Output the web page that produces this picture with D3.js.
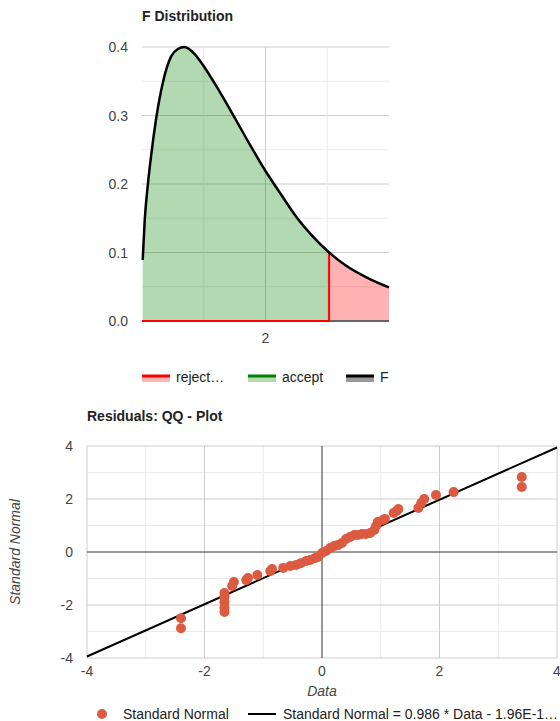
<!DOCTYPE html>
<html>
<head>
<meta charset="utf-8">
<script src="https://cdn.jsdelivr.net/npm/d3@7"></script>
<style>
  html, body { margin: 0; padding: 0; background: #fff; }
  svg { display: block; font-family: Arial, "Liberation Sans", sans-serif; }
</style>
</head>
<body>
<svg id="chart" width="560" height="721"></svg>
<script>
// ---------- Data: F distribution ----------
const fX = [0.011, 0.044, 0.097, 0.15, 0.23, 0.34, 0.47, 0.58, 0.69, 0.85, 1.0, 1.25, 1.5, 1.75, 2.0, 2.25, 2.5, 2.75, 3.03, 3.3, 3.65, 4.0];
const fY = [0.089, 0.147, 0.201, 0.243, 0.296, 0.349, 0.386, 0.397, 0.400, 0.390, 0.372, 0.336, 0.297, 0.257, 0.219, 0.185, 0.152, 0.125, 0.100, 0.081, 0.063, 0.049];
const criticalValue = 3.03;
const fYTicks = [0, 0.1, 0.2, 0.3, 0.4];
const fYTickLabels = ["0.0", "0.1", "0.2", "0.3", "0.4"];
const fXTicks = [2];
const fLegend = ["reject\u2026", "accept", "F"];

// ---------- Data: QQ plot ----------
const qqData = [-2.40, -2.40, -1.66, -1.66, -1.66, -1.66, -1.66, -1.53, -1.50, -1.29, -1.26, -1.10, -0.88, -0.85, -0.66, -0.54, -0.44, -0.36, -0.27, -0.20, -0.12, -0.07, 0.00, 0.07, 0.14, 0.21, 0.27, 0.34, 0.41, 0.48, 0.55, 0.61, 0.68, 0.75, 0.82, 0.89, 0.92, 0.95, 1.04, 1.07, 1.22, 1.27, 1.30, 1.64, 1.69, 1.74, 1.94, 2.24, 3.40, 3.40];
const qqNormal = [-2.50, -2.88, -1.55, -1.70, -1.90, -2.10, -2.26, -1.28, -1.13, -1.06, -0.98, -0.87, -0.72, -0.64, -0.60, -0.53, -0.49, -0.42, -0.34, -0.30, -0.23, -0.19, -0.04, 0.04, 0.15, 0.23, 0.26, 0.34, 0.49, 0.57, 0.64, 0.64, 0.68, 0.68, 0.72, 0.83, 0.98, 1.13, 1.21, 1.25, 1.47, 1.55, 1.62, 1.66, 1.85, 2.00, 2.15, 2.26, 2.83, 2.45];
const trendSlope = 0.986;
const trendIntercept = -1.96e-16;
const qqTicks = [-4, -2, 0, 2, 4];
const qqLegend = ["Standard Normal", "Standard Normal = 0.986 * Data - 1.96E-1\u2026"];

const svg = d3.select("#chart");

// ================= Top chart =================
{
  const x = d3.scaleLinear().domain([0, 4]).range([142, 389]);
  const y = d3.scaleLinear().domain([0, 0.4]).range([321, 47]);
  const g = svg.append("g");

  g.append("text").attr("x", 142).attr("y", 21).attr("font-size", 14).attr("font-weight", "bold")
    .attr("fill", "#222").text("F Distribution");

  // gridlines
  const hMinor = d3.range(0.05, 0.4, 0.1);
  g.selectAll(".hmin").data(hMinor).join("line")
    .attr("x1", x(0)).attr("x2", x(4)).attr("y1", d => y(d)).attr("y2", d => y(d))
    .attr("stroke", "#ebebeb").attr("stroke-width", 1);
  g.selectAll(".hmaj").data(fYTicks.slice(1)).join("line")
    .attr("x1", x(0)).attr("x2", x(4)).attr("y1", d => y(d)).attr("y2", d => y(d))
    .attr("stroke", "#cccccc").attr("stroke-width", 1);
  g.selectAll(".vmin").data([1, 3]).join("line")
    .attr("x1", d => x(d)).attr("x2", d => x(d)).attr("y1", y(0)).attr("y2", y(0.4))
    .attr("stroke", "#ebebeb").attr("stroke-width", 1);
  g.selectAll(".vmaj").data(fXTicks).join("line")
    .attr("x1", d => x(d)).attr("x2", d => x(d)).attr("y1", y(0)).attr("y2", y(0.4))
    .attr("stroke", "#cccccc").attr("stroke-width", 1);

  const pts = fX.map((v, i) => ({ x: v, y: fY[i] }));
  const acc = pts.filter(d => d.x <= criticalValue);
  const rej = pts.filter(d => d.x >= criticalValue);
  const crit = pts.find(d => d.x === criticalValue);

  const area = d3.area().x(d => x(d.x)).y0(y(0)).y1(d => y(d.y)).curve(d3.curveMonotoneX);
  g.append("path").attr("d", area(acc)).attr("fill", "#008000").attr("fill-opacity", 0.3);
  g.append("path").attr("d", area(rej)).attr("fill", "#ff0000").attr("fill-opacity", 0.3);

  // baseline
  g.append("line").attr("x1", x(0)).attr("x2", x(4)).attr("y1", y(0)).attr("y2", y(0))
    .attr("stroke", "#666").attr("stroke-width", 2);
  // reject series line (0 until critical, then up)
  g.append("path")
    .attr("d", d3.line().x(d => x(d.x)).y(d => y(d.y))([{ x: 0, y: 0 }, { x: criticalValue, y: 0 }, crit]))
    .attr("fill", "none").attr("stroke", "#ff0000").attr("stroke-width", 2);

  // F curve
  g.append("path").attr("d", d3.line().x(d => x(d.x)).y(d => y(d.y)).curve(d3.curveMonotoneX)(pts))
    .attr("fill", "none").attr("stroke", "#000").attr("stroke-width", 2.5);

  // tick labels
  g.selectAll(".yl").data(fYTicks).join("text")
    .attr("x", 128).attr("y", d => y(d) + 5).attr("text-anchor", "end")
    .attr("font-size", 14).attr("fill", "#444").text((d, i) => fYTickLabels[i]);
  g.selectAll(".xl").data(fXTicks).join("text")
    .attr("x", d => x(d)).attr("y", 343).attr("text-anchor", "middle")
    .attr("font-size", 14).attr("fill", "#444").text(d => d);

  // legend
  const legX = [142, 248, 346];
  const legCol = ["#ff0000", "#008000", "#000000"];
  const legBand = ["#ffb3b3", "#b3d9b3", "#999999"];
  fLegend.forEach((t, i) => {
    g.append("rect").attr("x", legX[i]).attr("y", 377).attr("width", 28).attr("height", 5).attr("fill", legBand[i]);
    g.append("rect").attr("x", legX[i]).attr("y", 374.5).attr("width", 28).attr("height", 3).attr("fill", legCol[i]);
    g.append("text").attr("x", legX[i] + 34).attr("y", 382).attr("font-size", 14).attr("fill", "#222").text(t);
  });
}

// ================= Bottom chart =================
{
  const x = d3.scaleLinear().domain([-4, 4]).range([87, 557]);
  const y = d3.scaleLinear().domain([-4, 4]).range([658, 446]);
  const g = svg.append("g");

  g.append("text").attr("x", 87).attr("y", 421).attr("font-size", 14).attr("font-weight", "bold")
    .attr("fill", "#222").text("Residuals: QQ - Plot");

  const all = d3.range(-4, 5, 1);
  const minor = all.filter(d => d % 2 !== 0);
  const major = all.filter(d => d % 2 === 0 && d !== 0);
  g.selectAll(".vmin").data(minor).join("line")
    .attr("x1", d => x(d)).attr("x2", d => x(d)).attr("y1", y(-4)).attr("y2", y(4))
    .attr("stroke", "#ebebeb");
  g.selectAll(".hmin").data(minor).join("line")
    .attr("y1", d => y(d)).attr("y2", d => y(d)).attr("x1", x(-4)).attr("x2", x(4))
    .attr("stroke", "#ebebeb");
  g.selectAll(".vmaj").data(major).join("line")
    .attr("x1", d => x(d)).attr("x2", d => x(d)).attr("y1", y(-4)).attr("y2", y(4))
    .attr("stroke", "#cccccc");
  g.selectAll(".hmaj").data(major).join("line")
    .attr("y1", d => y(d)).attr("y2", d => y(d)).attr("x1", x(-4)).attr("x2", x(4))
    .attr("stroke", "#cccccc");
  // zero axes
  g.append("line").attr("x1", x(0)).attr("x2", x(0)).attr("y1", y(-4)).attr("y2", y(4)).attr("stroke", "#333");
  g.append("line").attr("y1", y(0)).attr("y2", y(0)).attr("x1", x(-4)).attr("x2", x(4)).attr("stroke", "#333");

  // trendline
  g.append("line")
    .attr("x1", x(-4)).attr("y1", y(trendSlope * -4 + trendIntercept))
    .attr("x2", x(4)).attr("y2", y(trendSlope * 4 + trendIntercept))
    .attr("stroke", "#000").attr("stroke-width", 2);

  // points
  g.selectAll(".pt").data(qqData.map((d, i) => [d, qqNormal[i]])).join("circle")
    .attr("cx", d => x(d[0])).attr("cy", d => y(d[1])).attr("r", 5).attr("fill", "#dc5a40");

  // tick labels
  g.selectAll(".yl").data(qqTicks).join("text")
    .attr("x", 73).attr("y", d => y(d) + 5).attr("text-anchor", "end")
    .attr("font-size", 14).attr("fill", "#444").text(d => d);
  g.selectAll(".xl").data(qqTicks).join("text")
    .attr("x", d => x(d)).attr("y", 676).attr("text-anchor", "middle")
    .attr("font-size", 14).attr("fill", "#444").text(d => d);

  // axis titles
  g.append("text").attr("x", x(0)).attr("y", 696).attr("text-anchor", "middle")
    .attr("font-size", 14).attr("font-style", "italic").attr("fill", "#444").text("Data");
  g.append("text").attr("transform", `translate(20,${y(0)}) rotate(-90)`).attr("text-anchor", "middle")
    .attr("font-size", 14).attr("font-style", "italic").attr("fill", "#444").text("Standard Normal");

  // legend
  g.append("circle").attr("cx", 102).attr("cy", 714).attr("r", 5).attr("fill", "#dc5a40");
  g.append("text").attr("x", 123).attr("y", 719).attr("font-size", 14).attr("fill", "#222").text(qqLegend[0]);
  g.append("line").attr("x1", 248).attr("x2", 276).attr("y1", 714).attr("y2", 714).attr("stroke", "#000").attr("stroke-width", 2);
  g.append("text").attr("x", 283).attr("y", 719).attr("font-size", 14).attr("fill", "#222").text(qqLegend[1]);
}
</script>
</body>
</html>
